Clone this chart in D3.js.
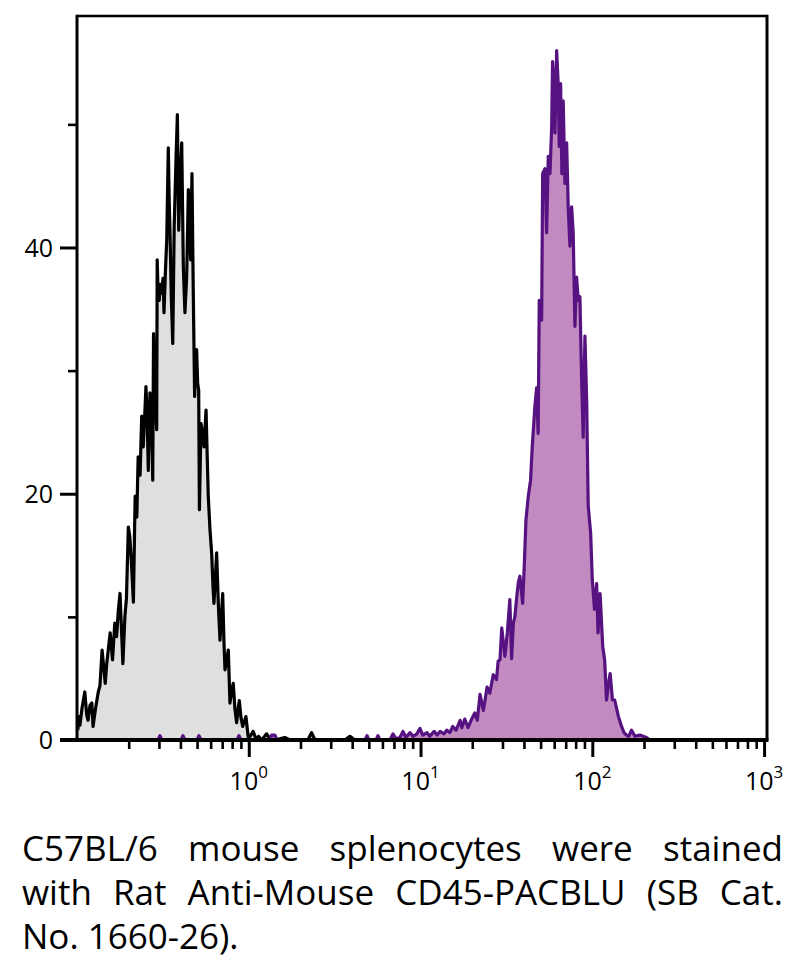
<!DOCTYPE html>
<html>
<head>
<meta charset="utf-8">
<script src="https://cdn.jsdelivr.net/npm/d3@7"></script>
<style>
  html, body { margin: 0; padding: 0; background: #fff; }
  svg { display: block; }
</style>
</head>
<body>
<svg id="chart" width="793" height="971"></svg>
<script>
// ---------- data (fluorescence intensity, event count) ----------
const grayX = [0.101,0.103,0.104,0.107,0.111,0.114,0.116,0.119,0.122,0.124,0.128,0.133,0.136,0.140,0.146,0.149,0.156,0.161,0.166,0.170,0.174,0.178,0.185,0.190,0.194,0.199,0.203,0.208,0.213,0.218,0.223,0.227,0.233,0.238,0.243,0.249,0.252,0.256,0.260,0.266,0.271,0.276,0.279,0.284,0.291,0.293,0.297,0.301,0.306,0.311,0.317,0.321,0.327,0.333,0.340,0.344,0.348,0.354,0.361,0.368,0.377,0.384,0.391,0.398,0.407,0.416,0.425,0.435,0.445,0.452,0.459,0.467,0.475,0.484,0.490,0.497,0.504,0.511,0.516,0.527,0.538,0.549,0.564,0.573,0.581,0.595,0.608,0.619,0.627,0.638,0.650,0.665,0.680,0.692,0.705,0.717,0.727,0.744,0.760,0.777,0.795,0.812,0.831,0.850,0.865,0.881,0.901,0.922,0.942,0.963,0.993,1.02,1.06,1.10,1.14,1.19,1.27,1.33,1.42,1.62,1.74,2.21,2.32,2.43,3.63,3.88,4.15,7.59];
const grayY = [0.8,1.9,1.2,2.6,3.9,2.0,1.6,2.8,3.0,1.1,2.5,3.9,4.4,7.3,4.6,6.2,8.7,6.5,9.5,8.4,10.5,11.9,6.2,10.0,11.5,17.3,16.5,14.1,11.2,19.8,18.1,23.0,21.5,26.3,23.8,27.0,28.7,26.5,21.9,28.2,27.0,21.1,33.0,28.4,25.2,39.0,36.0,35.7,37.0,36.3,37.5,34.7,38.0,40.6,48.1,44.0,41.2,36.0,32.2,41.7,47.1,50.8,41.4,45.2,48.5,38.4,34.7,37.6,44.7,41.0,39.0,46.0,36.6,27.9,30.0,31.7,29.0,28.4,18.7,25.7,25.0,23.8,26.8,23.0,19.8,17.0,15.2,12.5,11.1,13.0,15.2,11.0,8.1,10.0,11.9,8.0,5.7,6.5,7.3,3.0,4.0,4.6,2.5,1.4,2.4,3.2,1.8,1.1,1.5,1.9,0.2,0.3,0.7,0.1,0.3,0,0.5,0.1,0,0.2,0,0,0.6,0,0,0.3,0,0];

const purpleX = [0.266,0.296,0.304,0.312,0.403,0.414,0.425,0.499,0.513,0.527,0.853,0.877,0.901,1.33,1.36,1.42,1.46,4.75,4.88,5.01,5.50,5.65,5.80,6.64,6.91,7.19,7.59,7.90,8.22,8.68,9.03,9.53,9.92,10.3,10.9,11.3,12.0,12.5,13.0,13.7,14.2,14.8,15.4,16.1,17.0,17.4,18.1,18.9,19.7,20.7,21.4,22.2,23.2,23.9,24.4,25.3,26.5,27.7,28.3,29.0,29.7,31.0,32.0,33.1,33.9,34.7,35.4,36.3,37.1,37.9,39.3,40.0,41.1,42.4,43.7,44.7,46.3,47.4,48.4,49.1,50.7,51.4,53.0,54.2,55.4,56.7,58.0,58.7,59.8,60.6,62.0,63.3,64.2,65.4,66.5,67.7,69.3,70.9,72.4,74.1,75.8,77.4,79.2,81.0,82.8,84.7,86.6,88.5,90.6,92.7,94.7,97.8,100,103,106,108,111,115,118,121,124,127,131,135,142,148,153,158,163,169,177,189,207,216];
const purpleY = [0,0,0.35,0,0,0.35,0,0,0.35,0,0,0.35,0,0,0.4,0.4,0,0,0.35,0,0,0.35,0,0,0.5,0.1,0.2,0.7,0.2,0.6,0.3,0.5,0.95,0.4,0.6,0.3,0.7,0.4,0.7,0.5,0.8,0.6,1.1,0.8,1.6,1.0,1.7,1.0,1.6,2.2,1.6,3.7,2.4,3.5,4.3,3.8,5.3,4.9,6.4,6.5,9.1,6.8,8.7,11.4,6.6,9.5,10.0,11.6,12.8,13.3,11.1,13.5,17.9,19.8,21.1,23.8,27.1,28.6,24.9,35.7,34.1,46.0,46.4,41.2,47.4,46.0,49.8,55.1,53.3,49.3,56.0,53.3,48.2,53.3,46.0,51.9,45.2,48.5,43.3,40.1,43.3,41.2,33.6,37.6,35.7,36.0,29.5,24.6,32.8,27.6,19.0,16.8,13.0,10.6,12.7,8.7,11.9,7.6,6.5,3.25,4.5,5.4,3.25,3.25,1.9,1.1,0.6,0.4,0.3,0.8,0.3,0.4,0.2,0];

const yMajorTicks = [0, 20, 40];
const yMinorTicks = [10, 30, 50];
const xDecades = [1, 10, 100, 1000];
const xDecadeExponents = ["0", "1", "2", "3"];
const captionLines = [
  "C57BL/6 mouse splenocytes were stained",
  "with Rat Anti-Mouse CD45-PACBLU (SB Cat.",
  "No. 1660-26)."
];

// ---------- layout ----------
const L = 77, R = 767, T = 16, B = 740;
const svg = d3.select("#chart");
const x = d3.scaleLog().domain([0.1, 1040]).range([L, R]);
const y = d3.scaleLinear().domain([0, 58.8]).range([B, T]);

const gray = grayX.map((v, i) => [v, grayY[i]]);
const purple = purpleX.map((v, i) => [v, purpleY[i]]);

const area = d3.area().x(d => x(d[0])).y0(y(0)).y1(d => y(d[1]));
const line = d3.line().x(d => x(d[0])).y(d => y(d[1]));

const plot = svg.append("g");
plot.append("path").datum(gray).attr("d", area).attr("fill", "#dfdfdf");
plot.append("path").datum(gray).attr("d", line).attr("fill", "none")
  .attr("stroke", "#000").attr("stroke-width", 3.2).attr("stroke-linejoin", "round");
plot.append("path").datum(purple).attr("d", area).attr("fill", "#c18ac1");
plot.append("path").datum(purple).attr("d", line).attr("fill", "none")
  .attr("stroke", "#561281").attr("stroke-width", 3.2).attr("stroke-linejoin", "round");

// ---------- frame ----------
const frame = svg.append("g").attr("stroke", "#000");
frame.append("line").attr("x1", L).attr("x2", R).attr("y1", T).attr("y2", T).attr("stroke-width", 2.6);
frame.append("line").attr("x1", R).attr("x2", R).attr("y1", T - 1.3).attr("y2", B).attr("stroke-width", 3);

// ---------- y axis ----------
const yAxis = d3.axisLeft(y).tickValues(yMajorTicks).tickSize(17).tickPadding(7)
  .tickFormat(d3.format("d"));
const gy = svg.append("g").attr("transform", `translate(${L},0)`).call(yAxis);
gy.select(".domain").attr("stroke-width", 3).attr("d", `M0,${T - 1.3}V${B}`);
gy.selectAll(".tick line").attr("stroke-width", 3);
gy.selectAll(".tick text").attr("font-family", "'Open Sans', sans-serif")
  .attr("font-size", 25).attr("fill", "#000").attr("dy", "0.35em");
const gyMinor = d3.axisLeft(y).tickValues(yMinorTicks).tickSize(9).tickFormat("");
const gym = svg.append("g").attr("transform", `translate(${L},0)`).call(gyMinor);
gym.select(".domain").remove();
gym.selectAll(".tick line").attr("stroke-width", 2.6);

// ---------- x axis ----------
const minorX = x.ticks().filter(v => !xDecades.some(d => Math.abs(d - v) < 1e-9) && v > 0.1 && v < 1000);
const gxm = svg.append("g").attr("transform", `translate(0,${B})`)
  .call(d3.axisBottom(x).tickValues(minorX).tickSize(9).tickFormat(""));
gxm.select(".domain").remove();
gxm.selectAll(".tick line").attr("stroke-width", 2.6);

const gx = svg.append("g").attr("transform", `translate(0,${B})`)
  .call(d3.axisBottom(x).tickValues(xDecades).tickSize(17).tickFormat(""));
gx.select(".domain").attr("stroke-width", 4).attr("d", `M${L - 17},0H${R + 1.5}`);
gx.selectAll(".tick line").attr("stroke-width", 3);

const xl = svg.append("g").attr("font-family", "'Open Sans', sans-serif").attr("fill", "#000");
xDecades.forEach((d, i) => {
  const t = xl.append("text").attr("x", x(d)).attr("y", 790).attr("text-anchor", "middle")
    .attr("font-size", 25);
  t.append("tspan").text("10");
  t.append("tspan").attr("dy", -12).attr("font-size", 17).text(xDecadeExponents[i]);
});

// ---------- caption (justified) ----------
const cap = svg.append("g").attr("font-family", "'Open Sans', sans-serif")
  .attr("font-size", 35).attr("fill", "#000");
const capLeft = 22, capRight = 783;
const baselines = [861, 905, 949];
captionLines.forEach((ln, li) => {
  if (li === captionLines.length - 1) {
    cap.append("text").attr("x", capLeft).attr("y", baselines[li]).text(ln);
    return;
  }
  const words = ln.split(" ");
  const nodes = words.map(w => cap.append("text").attr("y", baselines[li]).text(w));
  const widths = nodes.map(n => n.node().getComputedTextLength());
  const total = d3.sum(widths);
  const gap = (capRight - capLeft - total) / (words.length - 1);
  let cx = capLeft;
  nodes.forEach((n, k) => { n.attr("x", cx); cx += widths[k] + gap; });
});
</script>
</body>
</html>
